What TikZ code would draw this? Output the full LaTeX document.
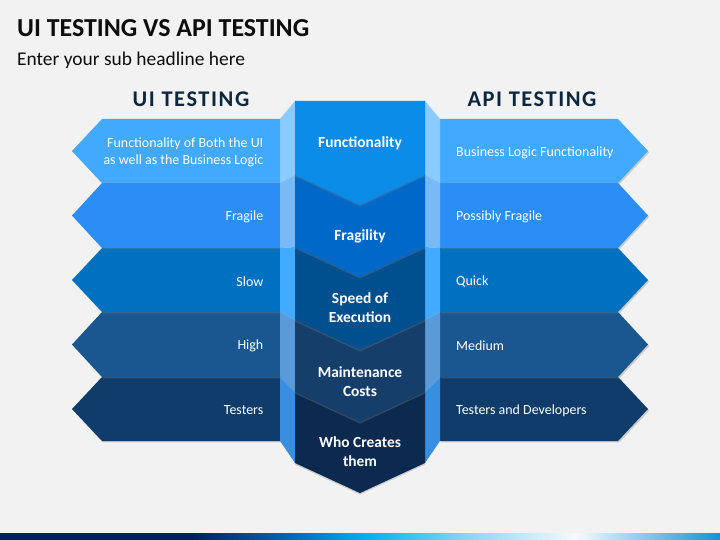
\documentclass[tikz,border=0pt]{standalone}
\usepackage{fontspec}
\setmainfont{Carlito}
\usetikzlibrary{shadows}
\definecolor{bg}{HTML}{F2F2F2}
\definecolor{rowA}{HTML}{41AAFF}
\definecolor{rowB}{HTML}{2A8EF6}
\definecolor{rowC}{HTML}{0070C0}
\definecolor{rowD}{HTML}{1A5690}
\definecolor{rowE}{HTML}{0F3C6B}
\definecolor{bandA}{HTML}{8CCBFF}
\definecolor{bandB}{HTML}{78BAF8}
\definecolor{bandC}{HTML}{42AAFF}
\definecolor{bandD}{HTML}{5A9AD8}
\definecolor{bandE}{HTML}{3A8EE2}
\definecolor{segA}{HTML}{0A8CE8}
\definecolor{segB}{HTML}{0068C8}
\definecolor{segC}{HTML}{00508F}
\definecolor{segD}{HTML}{163E6B}
\definecolor{segE}{HTML}{0C2A50}
\definecolor{headcol}{HTML}{0D2640}
\definecolor{barA}{HTML}{002060}
\definecolor{barB}{HTML}{0070C0}
\definecolor{barC}{HTML}{00B0F0}
\definecolor{barD}{HTML}{8CD7F5}
\definecolor{barE}{HTML}{F5FAFF}
\definecolor{barF}{HTML}{1491D7}
\pgfdeclarehorizontalshading{barshade}{100bp}{color(0bp)=(barA); color(25bp)=(barA); color(38.2bp)=(barA); color(45.8bp)=(barB); color(50.3bp)=(barC); color(57.6bp)=(barD); color(65bp)=(barE); color(75bp)=(barF); color(100bp)=(barF)}
\tikzset{
  arrowshape/.style={drop shadow={opacity=0.35, shadow xshift=1.2pt, shadow yshift=-1.5pt}},
  segshape/.style={drop shadow={opacity=0.35, shadow xshift=0pt, shadow yshift=-1.5pt}},
  sidetext/.style={text=white, inner sep=0, font=\fontsize{14}{17}\selectfont},
  midtext/.style={text=white, font=\bfseries\fontsize{15.5}{19}\selectfont, align=center},
  headtext/.style={text=headcol, font=\bfseries\fontsize{22.5}{24}\selectfont\addfontfeatures{LetterSpace=7}},
}
\begin{document}
\begin{tikzpicture}[x=1bp,y=-1bp]
\useasboundingbox (0,0) rectangle (720,540);
\fill[bg] (0,0) rectangle (720,540);
\shade[shading=barshade] (0,533.5) rectangle (720,540);

% titles
\node[anchor=base west, inner sep=0, font=\bfseries\fontsize{26}{30}\selectfont, text=black!95] (title) at (17,37) {UI TESTING VS API TESTING};
\node[anchor=base west, inner sep=0, font=\fontsize{19.5}{22}\selectfont, text=black!95] (subtitle) at (17,66) {Enter your sub headline here};
\node[headtext, anchor=base, inner sep=0] (uihead) at (191,106.5) {UI TESTING};
\node[headtext, anchor=base, inner sep=0] (apihead) at (532,106.5) {API TESTING};

% rows: bottom first
\foreach \t/\b/\c in {377/441/rowE, 312/377/rowD, 248/312/rowC, 183/248/rowB, 119/183/rowA}{
  \pgfmathsetmacro{\m}{(\t+\b)/2}
  \fill[\c, arrowshape] (280,\t) -- (102,\t) -- (72,\m) -- (102,\b) -- (280,\b) -- cycle;
  \fill[\c, arrowshape] (440,\t) -- (618,\t) -- (648,\m) -- (618,\b) -- (440,\b) -- cycle;
}

% side bands
\foreach \t/\b/\ct/\cb/\c in {119/183/101/175/bandA, 183/248/175/247/bandB, 248/312/247/320/bandC, 312/377/320/392/bandD, 377/441/392/463/bandE}{
  \fill[\c] (280,\t) -- (295,\ct) -- (295,\cb) -- (280,\b) -- cycle;
  \fill[\c] (440,\t) -- (425,\ct) -- (425,\cb) -- (440,\b) -- cycle;
}

% centre segments: bottom first
\foreach \ct/\cb/\c in {392/463/segE, 320/392/segD, 247/320/segC, 175/247/segB, 101/175/segA}{
  \pgfmathsetmacro{\p}{\cb+30}
  \fill[\c, segshape] (295,\ct) -- (425,\ct) -- (425,\cb) -- (360,\p) -- (295,\cb) -- cycle;
}

% centre texts
\node[midtext] (c1) at (360,143) {Functionality};
\node[midtext] (c2) at (360,236) {Fragility};
\node[midtext] (c3) at (360,307.5) {Speed of\\Execution};
\node[midtext] (c4) at (360,381.5) {Maintenance\\Costs};
\node[midtext] (c5) at (360,451.5) {Who Creates\\them};

% left texts
\node[sidetext, anchor=east, align=right] (l1) at (263.5,152.5) {Functionality of Both the UI\\as well as the Business Logic};
\node[sidetext, anchor=east] (l2) at (263.5,216.5) {Fragile};
\node[sidetext, anchor=east] (l3) at (263.5,281.5) {Slow};
\node[sidetext, anchor=east] (l4) at (263.5,345.5) {High};
\node[sidetext, anchor=east] (l5) at (263.5,410.5) {Testers};

% right texts
\node[sidetext, anchor=west] (r1) at (456,153) {Business Logic Functionality};
\node[sidetext, anchor=west] (r2) at (456,216.5) {Possibly Fragile};
\node[sidetext, anchor=west] (r3) at (456,281.5) {Quick};
\node[sidetext, anchor=west] (r4) at (456,345.5) {Medium};
\node[sidetext, anchor=west] (r5) at (456,410.5) {Testers and Developers};
\end{tikzpicture}
\end{document}
